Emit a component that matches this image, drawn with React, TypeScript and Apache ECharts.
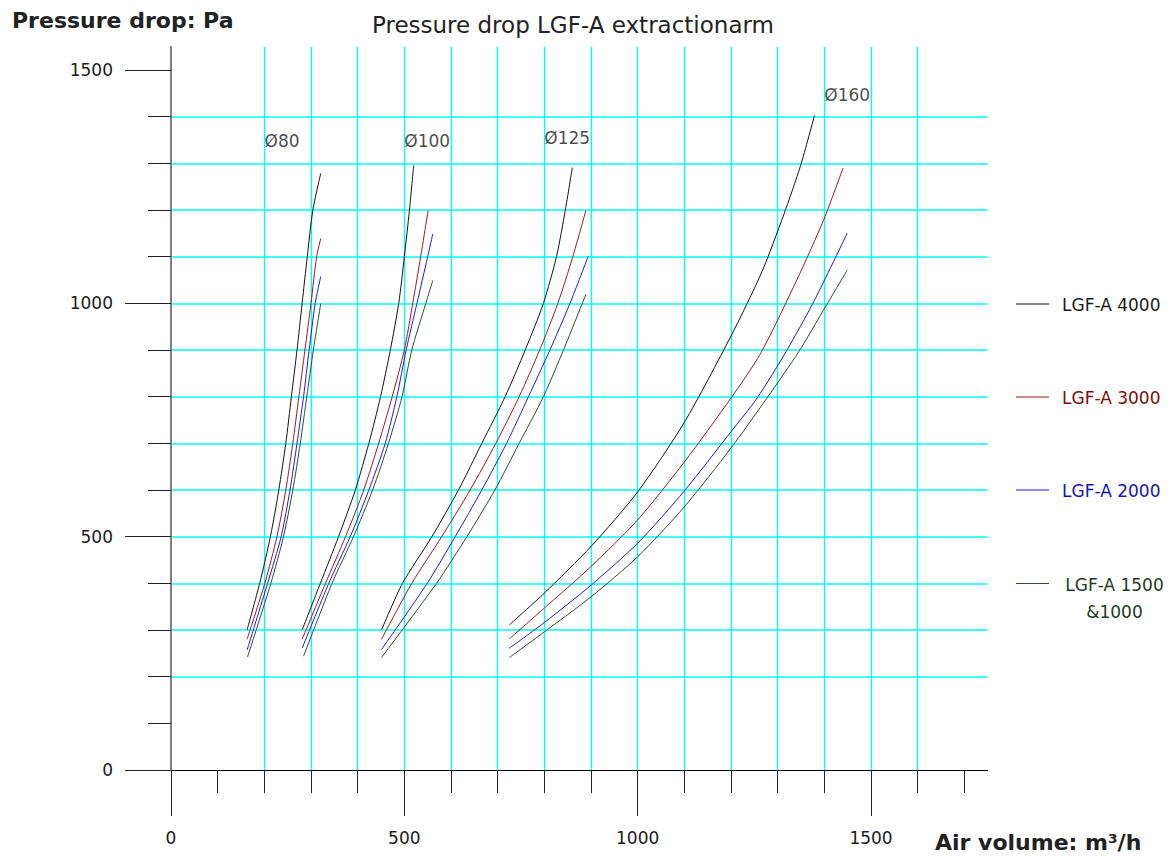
import React, { useEffect, useRef } from "react";
import * as echarts from "echarts";

const X_MAX = 1750;
const Y_MAX = 1550;
const GRID_STEP = 100;
const xGridValues = [100, 200, 300, 400, 500, 600, 700, 800, 900, 1000, 1100, 1200, 1300, 1400, 1500, 1600, 1700];
const yGridValues = [100, 200, 300, 400, 500, 600, 700, 800, 900, 1000, 1100, 1200, 1300, 1400, 1500];
const majorTicks = [0, 500, 1000, 1500];

const modelNames = ["LGF-A 4000", "LGF-A 3000", "LGF-A 2000", "LGF-A 1500\n&1000"];
const lineColors = ["#111111", "#a01818", "#1a1ae0", "#2f4a2f"];
const legendTextColors = ["#1a1a1a", "#7d0c0c", "#1515b0", "#1f3a1f"];

const diameterLabels = ["Ø80", "Ø100", "Ø125", "Ø160"];
const diameterLabelAt = [[238, 1348], [549, 1348], [849, 1354], [1449, 1446]];

// Ø80
const d80_4000 = [[163, 300], [190, 400], [213, 500], [231, 600], [246, 700], [258, 800], [270, 900], [281, 1000], [292, 1100], [304, 1200], [321, 1279]];
const d80_3000 = [[163, 280], [201, 400], [227, 500], [246, 600], [261, 700], [274, 800], [287, 900], [300, 1000], [312, 1100], [321, 1139]];
const d80_2000 = [[163, 257], [207, 400], [236, 500], [255, 600], [270, 700], [284, 800], [296, 900], [309, 1000], [321, 1058]];
const d80_1500 = [[164, 242], [214, 400], [241, 500], [261, 600], [277, 700], [291, 800], [305, 900], [321, 1000]];
// Ø100
const d100_4000 = [[281, 300], [320, 400], [359, 500], [395, 600], [424, 700], [449, 800], [470, 900], [488, 1000], [500, 1100], [511, 1200], [520, 1296]];
const d100_3000 = [[281, 280], [331, 400], [374, 500], [413, 600], [445, 700], [474, 800], [500, 900], [518, 1000], [535, 1100], [551, 1199]];
const d100_2000 = [[281, 261], [338, 400], [384, 500], [424, 600], [459, 700], [484, 800], [504, 900], [527, 1000], [550, 1100], [561, 1149]];
const d100_1500 = [[284, 244], [345, 400], [391, 500], [432, 600], [466, 700], [495, 800], [516, 900], [546, 1000], [561, 1049]];
// Ø125
const d125_4000 = [[451, 300], [496, 400], [559, 500], [616, 600], [666, 700], [716, 800], [759, 900], [798, 1000], [826, 1100], [845, 1200], [860, 1291]];
const d125_3000 = [[451, 280], [516, 400], [580, 500], [641, 600], [696, 700], [746, 800], [790, 900], [829, 1000], [861, 1100], [889, 1199]];
const d125_2000 = [[451, 258], [549, 400], [609, 500], [666, 600], [719, 700], [766, 800], [812, 900], [855, 1000], [894, 1101]];
const d125_1500 = [[451, 241], [569, 400], [634, 500], [694, 600], [746, 700], [798, 800], [841, 900], [889, 1019]];
// Ø160
const d160_4000 = [[725, 311], [800, 379], [900, 479], [1000, 596], [1100, 745], [1200, 930], [1266, 1067], [1313, 1190], [1349, 1295], [1379, 1403]];
const d160_3000 = [[725, 281], [800, 347], [900, 436], [1000, 536], [1100, 660], [1200, 797], [1263, 892], [1341, 1050], [1399, 1180], [1440, 1290]];
const d160_2000 = [[725, 261], [800, 316], [900, 396], [1000, 486], [1100, 598], [1200, 725], [1256, 797], [1320, 900], [1377, 1003], [1449, 1150]];
const d160_1500 = [[725, 241], [800, 296], [900, 371], [1000, 457], [1100, 564], [1200, 690], [1277, 797], [1345, 896], [1399, 987], [1449, 1071]];

const curveSets = [
  [d80_4000, d80_3000, d80_2000, d80_1500],
  [d100_4000, d100_3000, d100_2000, d100_1500],
  [d125_4000, d125_3000, d125_2000, d125_1500],
  [d160_4000, d160_3000, d160_2000, d160_1500],
];

const FONT = "DejaVu Sans";
const TEXT = "#1a1a1a";
const CYAN = "#00ffff";

function buildOption(): any {
  const series: any[] = [];
  curveSets.forEach((set, di) => {
    set.forEach((data, mi) => {
      series.push({
        type: "line",
        name: modelNames[mi] + " " + diameterLabels[di],
        data,
        xAxisIndex: 0,
        yAxisIndex: 0,
        showSymbol: false,
        symbol: "none",
        smooth: 0.25,
        silent: true,
        z: 3,
        lineStyle: { color: lineColors[mi], width: 1 },
        itemStyle: { color: lineColors[mi] },
      });
    });
  });
  series.push({
    type: "scatter",
    name: "diameters",
    data: diameterLabels.map((n, i) => ({ name: n, value: diameterLabelAt[i] })),
    symbolSize: 1,
    itemStyle: { color: "rgba(0,0,0,0)" },
    silent: true,
    z: 4,
    label: {
      show: true,
      position: "inside",
      formatter: "{b}",
      fontSize: 17,
      fontFamily: FONT,
      color: TEXT,
    },
  });

  const graphic: any[] = [
    {
      type: "text",
      x: 12,
      y: 20,
      style: {
        text: "Pressure drop: Pa",
        font: `bold 22px "${FONT}"`,
        fill: "#222",
        textAlign: "left",
        textVerticalAlign: "middle",
      },
    },
    {
      type: "text",
      x: 935,
      y: 842,
      style: {
        text: "Air volume: m³/h",
        font: `bold 22px "${FONT}"`,
        fill: "#222",
        textAlign: "left",
        textVerticalAlign: "middle",
      },
    },
  ];
  const legendY = [304, 397, 490, 583.5];
  modelNames.forEach((name, i) => {
    graphic.push({
      type: "line",
      shape: { x1: 1016, y1: legendY[i], x2: 1049, y2: legendY[i] },
      style: { stroke: lineColors[i], lineWidth: 1 },
    });
    const multi = name.indexOf("\n") >= 0;
    graphic.push({
      type: "text",
      x: multi ? 1114.5 : 1062,
      y: multi ? legendY[i] - 12.5 : legendY[i] + 1,
      style: {
        text: name,
        font: `17px "${FONT}"`,
        fill: legendTextColors[i],
        textAlign: multi ? "center" : "left",
        textVerticalAlign: multi ? "top" : "middle",
        lineHeight: 27,
      },
    });
  });

  const plainNum = (v: number) => String(v);

  return {
    animation: false,
    backgroundColor: "#ffffff",
    title: {
      text: "Pressure drop LGF-A extractionarm",
      left: 367,
      top: 8,
      textStyle: { fontSize: 23, fontWeight: "normal", fontFamily: FONT, color: "#222" },
    },
    grid: { left: 171, right: 183.33, top: 46.67, bottom: 86, containLabel: false },
    xAxis: [
      {
        type: "value",
        min: 0,
        max: X_MAX,
        interval: GRID_STEP,
        position: "bottom",
        z: 2,
        axisLine: { show: true, onZero: false, lineStyle: { color: "#000", width: 1 } },
        axisTick: { show: true, length: 23, customValues: xGridValues, lineStyle: { color: "#222", width: 1 } },
        axisLabel: { show: true, customValues: majorTicks, formatter: plainNum, margin: 59, fontSize: 17, fontFamily: FONT, color: TEXT },
        splitLine: { show: true, showMinLine: false, showMaxLine: false, lineStyle: { color: CYAN, width: 1.4 } },
      },
      {
        type: "value",
        min: 0,
        max: X_MAX,
        position: "bottom",
        axisLine: { show: false },
        axisTick: { show: true, length: 46, customValues: majorTicks, lineStyle: { color: "#222", width: 1 } },
        axisLabel: { show: false },
        splitLine: { show: false },
      },
    ],
    yAxis: [
      {
        type: "value",
        min: 0,
        max: Y_MAX,
        interval: GRID_STEP,
        position: "left",
        z: 2,
        axisLine: { show: true, onZero: false, lineStyle: { color: "#7f7f7f", width: 2 } },
        axisTick: { show: true, length: 23, customValues: yGridValues, lineStyle: { color: "#222", width: 1 } },
        axisLabel: { show: true, customValues: majorTicks, formatter: plainNum, margin: 58, fontSize: 17, fontFamily: FONT, color: TEXT },
        splitLine: { show: true, showMinLine: false, showMaxLine: false, lineStyle: { color: CYAN, width: 1.6 } },
      },
      {
        type: "value",
        min: 0,
        max: Y_MAX,
        position: "left",
        axisLine: { show: false },
        axisTick: { show: true, length: 46, customValues: majorTicks, lineStyle: { color: "#222", width: 1 } },
        axisLabel: { show: false },
        splitLine: { show: false },
      },
    ],
    series,
    graphic,
  };
}

export default function App() {
  const ref = useRef<HTMLDivElement>(null);
  useEffect(() => {
    document.body.style.margin = "0";
    if (!ref.current) return;
    const chart = echarts.init(ref.current, null, { renderer: "svg" });
    chart.setOption(buildOption());
    return () => chart.dispose();
  }, []);
  return <div ref={ref} style={{ width: 1171, height: 856 }} />;
}
